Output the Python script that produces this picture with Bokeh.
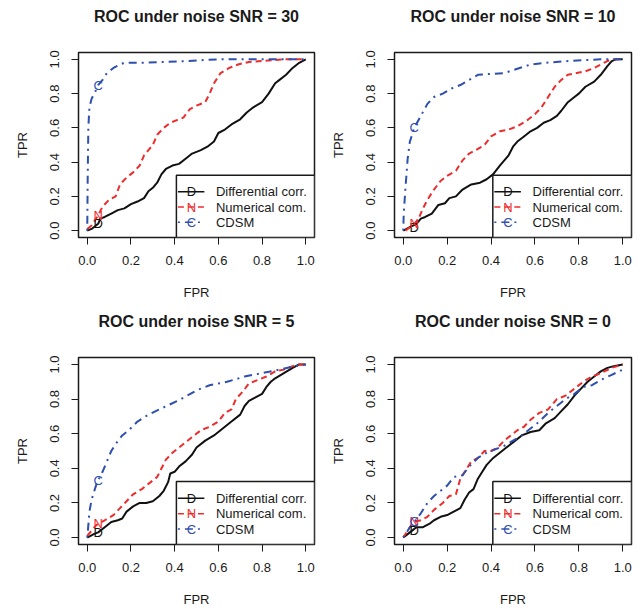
from bokeh.plotting import figure
from bokeh.layouts import gridplot
from bokeh.models import FixedTicker, Range1d, Title
from bokeh.core.properties import value
from bokeh.embed import file_html
from bokeh.resources import INLINE

FONT = "Liberation Sans"

# ---------------- data ----------------
snr_levels = [30, 10, 5, 0]
methods = ["Differential corr.", "Numerical com.", "CDSM"]
method_letters = ["D", "N", "C"]
tick_values = [0.0, 0.2, 0.4, 0.6, 0.8, 1.0]
tick_labels = ["0.0", "0.2", "0.4", "0.6", "0.8", "1.0"]
marker_fpr = 0.05

# SNR = 30
fpr_diff_30 = [0, 0.02, 0.04, 0.05, 0.06, 0.08, 0.11, 0.14, 0.17, 0.2, 0.23, 0.26, 0.28, 0.3, 0.32, 0.34, 0.36, 0.39, 0.42, 0.45, 0.48, 0.52, 0.55, 0.58, 0.6, 0.63, 0.66, 0.7, 0.73, 0.76, 0.8, 0.83, 0.86, 0.88, 0.91, 0.94, 0.97, 1.0]
tpr_diff_30 = [0, 0.01, 0.03, 0.04, 0.07, 0.08, 0.1, 0.12, 0.13, 0.155, 0.17, 0.19, 0.23, 0.25, 0.28, 0.33, 0.36, 0.38, 0.39, 0.42, 0.45, 0.47, 0.49, 0.52, 0.57, 0.59, 0.62, 0.65, 0.69, 0.72, 0.75, 0.8, 0.86, 0.88, 0.91, 0.95, 0.98, 1.0]
fpr_num_30 = [0, 0.02, 0.04, 0.05, 0.07, 0.1, 0.13, 0.15, 0.18, 0.21, 0.24, 0.26, 0.28, 0.3, 0.32, 0.35, 0.38, 0.41, 0.44, 0.47, 0.5, 0.54, 0.56, 0.58, 0.61, 0.65, 0.69, 0.74, 0.8, 0.9, 1.0]
tpr_num_30 = [0.01, 0.03, 0.07, 0.09, 0.14, 0.18, 0.2, 0.27, 0.31, 0.34, 0.38, 0.44, 0.47, 0.5, 0.56, 0.6, 0.63, 0.645, 0.66, 0.71, 0.73, 0.75, 0.8, 0.86, 0.92, 0.95, 0.97, 0.985, 0.99, 1.0, 1.0]
fpr_cdsm_30 = [0, 0.002, 0.005, 0.01, 0.02, 0.04, 0.05, 0.07, 0.09, 0.12, 0.15, 0.17, 0.25, 0.35, 0.45, 0.6, 0.8, 1.0]
tpr_cdsm_30 = [0, 0.3, 0.6, 0.72, 0.77, 0.82, 0.85, 0.88, 0.92, 0.95, 0.97, 0.98, 0.98, 0.985, 0.99, 1.0, 1.0, 1.0]

# SNR = 10
fpr_diff_10 = [0, 0.03, 0.06, 0.08, 0.1, 0.13, 0.16, 0.19, 0.21, 0.24, 0.27, 0.31, 0.35, 0.38, 0.41, 0.44, 0.48, 0.5, 0.52, 0.55, 0.58, 0.61, 0.64, 0.67, 0.7, 0.72, 0.75, 0.78, 0.8, 0.83, 0.87, 0.9, 0.93, 0.95, 0.97, 1.0]
tpr_diff_10 = [0, 0.02, 0.04, 0.07, 0.08, 0.1, 0.15, 0.16, 0.19, 0.2, 0.24, 0.27, 0.28, 0.3, 0.33, 0.38, 0.44, 0.49, 0.52, 0.55, 0.58, 0.6, 0.63, 0.645, 0.67, 0.7, 0.75, 0.78, 0.8, 0.84, 0.87, 0.91, 0.96, 0.99, 1.0, 1.0]
fpr_num_10 = [0.01, 0.03, 0.05, 0.07, 0.09, 0.11, 0.14, 0.17, 0.2, 0.24, 0.27, 0.3, 0.33, 0.37, 0.4, 0.44, 0.48, 0.52, 0.56, 0.6, 0.63, 0.66, 0.69, 0.72, 0.75, 0.79, 0.83, 0.87, 0.9, 0.93, 0.96, 1.0]
tpr_num_10 = [0, 0.02, 0.04, 0.07, 0.13, 0.18, 0.24, 0.29, 0.32, 0.35, 0.41, 0.45, 0.47, 0.5, 0.55, 0.58, 0.59, 0.61, 0.64, 0.68, 0.72, 0.78, 0.84, 0.88, 0.91, 0.92, 0.93, 0.95, 0.97, 0.99, 1.0, 1.0]
fpr_cdsm_10 = [0, 0.002, 0.01, 0.02, 0.03, 0.05, 0.08, 0.11, 0.14, 0.18, 0.22, 0.26, 0.3, 0.34, 0.4, 0.46, 0.52, 0.58, 0.65, 0.75, 0.9, 1.0]
tpr_cdsm_10 = [0, 0.1, 0.25, 0.42, 0.52, 0.6, 0.67, 0.74, 0.78, 0.8, 0.83, 0.85, 0.88, 0.91, 0.915, 0.92, 0.945, 0.97, 0.98, 0.99, 1.0, 1.0]

# SNR = 5
fpr_diff_5 = [0, 0.03, 0.05, 0.08, 0.11, 0.14, 0.16, 0.18, 0.21, 0.24, 0.27, 0.3, 0.33, 0.35, 0.37, 0.38, 0.4, 0.42, 0.45, 0.48, 0.5, 0.54, 0.58, 0.62, 0.66, 0.7, 0.72, 0.74, 0.77, 0.8, 0.82, 0.84, 0.86, 0.9, 0.94, 0.97, 1.0]
tpr_diff_5 = [0, 0.02, 0.03, 0.06, 0.09, 0.1, 0.11, 0.15, 0.18, 0.2, 0.2, 0.21, 0.24, 0.27, 0.32, 0.37, 0.38, 0.41, 0.44, 0.48, 0.52, 0.56, 0.59, 0.63, 0.67, 0.71, 0.76, 0.79, 0.81, 0.83, 0.87, 0.9, 0.92, 0.95, 0.98, 1.0, 1.0]
fpr_num_5 = [0, 0.02, 0.04, 0.05, 0.08, 0.12, 0.15, 0.18, 0.21, 0.25, 0.28, 0.32, 0.34, 0.36, 0.39, 0.42, 0.45, 0.48, 0.52, 0.56, 0.6, 0.63, 0.66, 0.68, 0.71, 0.74, 0.78, 0.82, 0.86, 0.9, 0.94, 0.97, 1.0]
tpr_num_5 = [0.01, 0.04, 0.07, 0.08, 0.1, 0.13, 0.17, 0.21, 0.25, 0.28, 0.31, 0.35, 0.4, 0.45, 0.49, 0.52, 0.55, 0.58, 0.62, 0.64, 0.67, 0.72, 0.74, 0.8, 0.84, 0.89, 0.91, 0.93, 0.96, 0.97, 0.99, 1.0, 1.0]
fpr_cdsm_5 = [0, 0.005, 0.01, 0.02, 0.04, 0.05, 0.07, 0.09, 0.11, 0.13, 0.16, 0.19, 0.23, 0.28, 0.33, 0.38, 0.43, 0.5, 0.56, 0.64, 0.72, 0.8, 0.88, 0.95, 1.0]
tpr_cdsm_5 = [0, 0.07, 0.15, 0.22, 0.3, 0.33, 0.38, 0.44, 0.5, 0.54, 0.59, 0.62, 0.67, 0.71, 0.74, 0.77, 0.8, 0.85, 0.88, 0.9, 0.93, 0.95, 0.97, 0.99, 1.0]

# SNR = 0
fpr_diff_0 = [0, 0.02, 0.04, 0.06, 0.09, 0.12, 0.14, 0.17, 0.2, 0.23, 0.26, 0.28, 0.3, 0.32, 0.34, 0.36, 0.38, 0.41, 0.44, 0.47, 0.5, 0.54, 0.58, 0.62, 0.65, 0.69, 0.72, 0.75, 0.78, 0.81, 0.84, 0.87, 0.9, 0.93, 0.96, 1.0]
tpr_diff_0 = [0, 0.02, 0.04, 0.06, 0.06, 0.08, 0.1, 0.12, 0.13, 0.15, 0.17, 0.22, 0.26, 0.28, 0.34, 0.38, 0.42, 0.46, 0.49, 0.52, 0.55, 0.59, 0.61, 0.62, 0.66, 0.69, 0.73, 0.77, 0.82, 0.86, 0.9, 0.93, 0.96, 0.98, 0.99, 1.0]
fpr_num_0 = [0, 0.03, 0.05, 0.08, 0.11, 0.14, 0.18, 0.21, 0.24, 0.26, 0.28, 0.31, 0.34, 0.37, 0.4, 0.43, 0.46, 0.49, 0.52, 0.55, 0.58, 0.62, 0.66, 0.7, 0.74, 0.78, 0.82, 0.86, 0.9, 0.95, 1.0]
tpr_num_0 = [0, 0.06, 0.09, 0.1, 0.12, 0.16, 0.2, 0.24, 0.25, 0.34, 0.38, 0.44, 0.46, 0.5, 0.5, 0.52, 0.56, 0.59, 0.62, 0.64, 0.68, 0.72, 0.74, 0.8, 0.82, 0.86, 0.9, 0.93, 0.95, 0.98, 1.0]
fpr_cdsm_0 = [0, 0.03, 0.05, 0.08, 0.11, 0.14, 0.17, 0.2, 0.23, 0.27, 0.3, 0.34, 0.38, 0.42, 0.46, 0.5, 0.54, 0.58, 0.62, 0.66, 0.7, 0.74, 0.78, 0.82, 0.86, 0.9, 0.95, 1.0]
tpr_cdsm_0 = [0, 0.06, 0.09, 0.14, 0.2, 0.24, 0.27, 0.3, 0.35, 0.36, 0.41, 0.46, 0.49, 0.51, 0.53, 0.56, 0.59, 0.63, 0.67, 0.72, 0.76, 0.8, 0.83, 0.87, 0.88, 0.91, 0.94, 0.97]

# TPR of each method at FPR = 0.05 (letter markers)
marker_tpr_30 = [0.04, 0.09, 0.85]
marker_tpr_10 = [0.02, 0.04, 0.60]
marker_tpr_5 = [0.03, 0.08, 0.33]
marker_tpr_0 = [0.04, 0.09, 0.09]

curves = {
    30: [(fpr_diff_30, tpr_diff_30), (fpr_num_30, tpr_num_30), (fpr_cdsm_30, tpr_cdsm_30)],
    10: [(fpr_diff_10, tpr_diff_10), (fpr_num_10, tpr_num_10), (fpr_cdsm_10, tpr_cdsm_10)],
    5: [(fpr_diff_5, tpr_diff_5), (fpr_num_5, tpr_num_5), (fpr_cdsm_5, tpr_cdsm_5)],
    0: [(fpr_diff_0, tpr_diff_0), (fpr_num_0, tpr_num_0), (fpr_cdsm_0, tpr_cdsm_0)],
}
markers = {30: marker_tpr_30, 10: marker_tpr_10, 5: marker_tpr_5, 0: marker_tpr_0}

# ---------------- style ----------------
COLORS = ["#111111", "#EE2C2C", "#2F4FAF"]
DASHES = ["solid", "6 4", "2 5 8 5"]
INK = "#1a1a1a"
PAD = 0.04


def make_panel(snr, left_col, top_row):
    p = figure(
        width=321, height=305 if top_row else 304,
        output_backend="svg", toolbar_location=None,
        x_range=Range1d(-PAD, 1 + PAD), y_range=Range1d(-PAD, 1 + PAD),
        min_border_left=78 if left_col else 73,
        min_border_right=7 if left_col else 11,
        min_border_top=47 if top_row else 51,
        min_border_bottom=68 if top_row else 63,
        background_fill_color="white", border_fill_color="white",
    )
    # blank spacer title between the frame and the real title
    p.add_layout(Title(text=" ", text_font_size="10px"), "above")
    p.title.text = f"ROC under noise SNR = {snr}"
    p.title.align = "center"
    p.title.text_font = FONT
    p.title.text_font_size = "16px"
    p.title.text_font_style = "bold"
    p.title.text_color = INK

    p.xgrid.visible = False
    p.ygrid.visible = False
    p.outline_line_color = INK
    p.outline_line_width = 1.5
    p.outline_line_alpha = 1.0

    overrides = dict(zip(tick_values, tick_labels))
    for ax, lbl in ((p.xaxis[0], "FPR"), (p.yaxis[0], "TPR")):
        ax.ticker = FixedTicker(ticks=tick_values)
        ax.major_label_overrides = overrides
        ax.axis_line_color = None
        ax.major_tick_in = 0
        ax.major_tick_out = 7
        ax.major_tick_line_color = INK
        ax.major_tick_line_width = 1
        ax.minor_tick_line_color = None
        ax.major_label_text_font = FONT
        ax.major_label_text_font_size = "13px"
        ax.major_label_text_color = INK
        ax.axis_label = lbl
        ax.axis_label_text_font = FONT
        ax.axis_label_text_font_size = "13px"
        ax.axis_label_text_font_style = "normal"
        ax.axis_label_text_color = INK
    p.xaxis[0].major_label_standoff = 11
    p.xaxis[0].axis_label_standoff = 17
    p.yaxis[0].major_label_standoff = 12
    p.yaxis[0].axis_label_standoff = 18
    p.yaxis[0].major_label_orientation = "parallel"

    # ROC curves
    for (fx, ty), col, dash in zip(curves[snr], COLORS, DASHES):
        p.line(fx, ty, line_color=col, line_width=2, line_dash=dash)

    # letter markers at FPR = 0.05
    p.text(x=[marker_fpr] * 3, y=markers[snr], text=method_letters,
           text_color=COLORS, text_font=value(FONT), text_font_size="13px",
           text_align="center", text_baseline="middle")

    # legend (bottom right, inside plot box)
    lg_left, lg_top = 0.408, 0.324
    rows_y = [0.227, 0.138, 0.049]
    p.quad(left=[lg_left], right=[1 + PAD], bottom=[-PAD], top=[lg_top],
           fill_color="white", line_color=INK, line_width=1.5)
    for yy, col, dash, letter, name in zip(rows_y, COLORS, DASHES, method_letters, methods):
        p.line([lg_left + 0.007, lg_left + 0.128], [yy, yy], line_color=col,
               line_width=1.5, line_dash=dash)
        p.text(x=[lg_left + 0.069], y=[yy], text=[letter], text_color=col,
               text_font=value(FONT), text_font_size="13px",
               text_align="center", text_baseline="middle")
        p.text(x=[lg_left + 0.181], y=[yy], text=[name], text_color=INK,
               text_font=value(FONT), text_font_size="13px",
               text_align="left", text_baseline="middle")
    return p


p1 = make_panel(snr_levels[0], True, True)
p2 = make_panel(snr_levels[1], False, True)
p3 = make_panel(snr_levels[2], True, False)
p4 = make_panel(snr_levels[3], False, False)

grid = gridplot([[p1, p2], [p3, p4]], toolbar_location=None)

open("out.html", "w").write(file_html(grid, INLINE))
